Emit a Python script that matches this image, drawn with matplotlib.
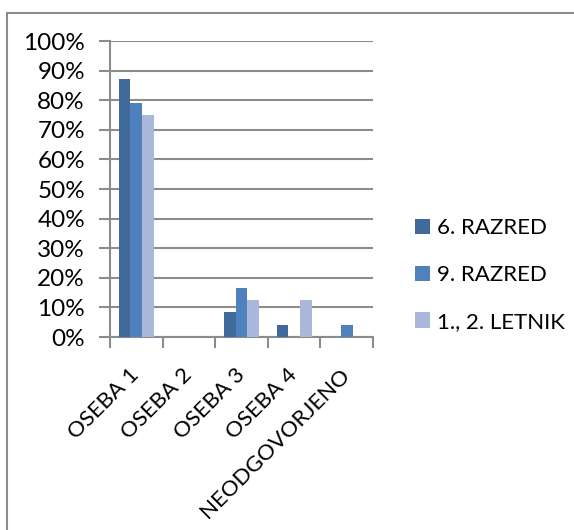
import matplotlib
matplotlib.use("Agg")
import matplotlib.pyplot as plt
import numpy as np
from matplotlib.lines import Line2D

categories = ["OSEBA 1", "OSEBA 2", "OSEBA 3", "OSEBA 4", "NEODGOVORJENO"]
series_names = ["6. RAZRED", "9. RAZRED", "1., 2. LETNIK"]
razred6 = [0.87, 0.0, 0.083, 0.042, 0.0]
razred9 = [0.79, 0.0, 0.167, 0.0, 0.04]
letnik12 = [0.75, 0.0, 0.125, 0.125, 0.0]
y_ticks = [0, 0.1, 0.2, 0.3, 0.4, 0.5, 0.6, 0.7, 0.8, 0.9, 1.0]
y_labels = ["0%", "10%", "20%", "30%", "40%", "50%", "60%", "70%", "80%", "90%", "100%"]

colors = ["#40699C", "#4F81BD", "#AAB9D9"]
grid_c = "#8C8C8C"

plt.rcParams["font.family"] = ["Lato", "DejaVu Sans"]

fig = plt.figure(figsize=(5.74, 5.30), dpi=100)
ax = fig.add_axes([110 / 574, 1 - 337 / 530, (373 - 110) / 574, (337 - 41) / 530])

x = np.arange(len(categories))
w = 0.222
for i, (vals, c, name) in enumerate(zip([razred6, razred9, letnik12], colors, series_names)):
    ax.bar(x + (i - 1) * w, vals, width=w, color=c, label=name, zorder=3)

ax.set_xlim(-0.5, len(categories) - 0.5)
ax.set_ylim(0, 1.0)
ax.set_yticks(y_ticks)
ax.set_yticklabels(y_labels, fontsize=17.5)
ax.yaxis.grid(True, color=grid_c, linewidth=1.5, zorder=0)
ax.set_axisbelow(True)

# category boundaries as tick marks
ax.set_xticks(np.arange(len(categories) + 1) - 0.5)
ax.set_xticklabels([])
ax.tick_params(axis="x", length=8, width=1.5, color=grid_c, direction="out")
ax.tick_params(axis="y", length=8, width=1.5, color=grid_c, direction="out", pad=10)

for i, cat in enumerate(categories):
    ax.annotate(cat, xy=(i, 0), xycoords=("data", "axes fraction"),
                xytext=(0, -25), textcoords="offset points",
                rotation=45, rotation_mode="anchor", ha="right", va="center",
                fontsize=16)

for s in ["top", "right"]:
    ax.spines[s].set_visible(False)
for s in ["left", "bottom"]:
    ax.spines[s].set_color(grid_c)
    ax.spines[s].set_linewidth(1.5)

fig.legend(loc="center left", bbox_to_anchor=(395 / 574, 1 - 275 / 530),
           frameon=False, fontsize=16, handlelength=0.68, handleheight=0.68,
           handletextpad=0.32, labelspacing=1.2)

# outer chart frame
fig.add_artist(Line2D([7 / 574, 7 / 574], [0, 1 - 13 / 530], transform=fig.transFigure,
                      color=grid_c, linewidth=1.5))
fig.add_artist(Line2D([7 / 574, 1], [1 - 13 / 530, 1 - 13 / 530], transform=fig.transFigure,
                      color=grid_c, linewidth=1.5))

fig.savefig("out.png", dpi=100)
